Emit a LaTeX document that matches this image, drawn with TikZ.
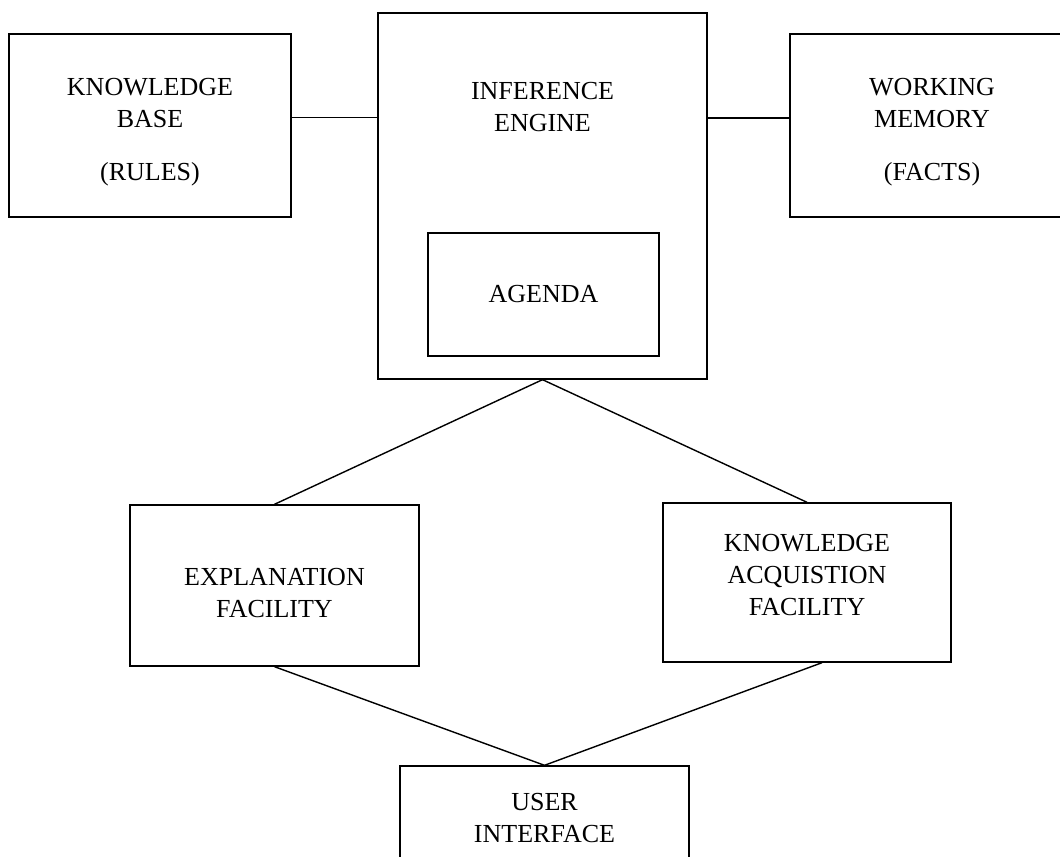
\documentclass[tikz,border=0pt]{standalone}
\usepackage{fontspec}
\setmainfont{Liberation Serif}
\begin{document}
\begin{tikzpicture}[x=0.02cm, y=-0.02cm, line width=0.8pt,
    box/.style={draw, inner sep=0pt},
    label/.style={align=center, inner sep=0pt,
        font=\fontsize{14.8}{18.2}\selectfont}]
    \useasboundingbox (0,0) rectangle (1060,857);
    % boxes
    \node[box, minimum width=5.64cm, minimum height=3.66cm] (kb) at (150,125.5) {};
    \node[box, minimum width=6.58cm, minimum height=7.32cm] (ie) at (542.5,196) {};
    \node[box, minimum width=4.62cm, minimum height=2.46cm] (agenda) at (543.5,294.5) {};
    \node[box, minimum width=5.64cm, minimum height=3.66cm] (wm) at (931,125.5) {};
    \node[box, minimum width=5.78cm, minimum height=3.22cm] (expl) at (274.5,585.5) {};
    \node[box, minimum width=5.76cm, minimum height=3.18cm] (kaf) at (807,582.5) {};
    \node[box, minimum width=5.78cm, minimum height=2.04cm] (ui) at (544.5,817) {};
    % texts
    \node[label] (kbtext) at (150,132) {KNOWLEDGE\\BASE\\[12pt](RULES)};
    \node[label] (ietext) at (542.5,107) {INFERENCE\\ENGINE};
    \node[label] (agendatext) at (agenda.center) {AGENDA};
    \node[label] (wmtext) at (932,132) {WORKING\\MEMORY\\[12pt](FACTS)};
    \node[label] (expltext) at (274.5,593) {EXPLANATION\\FACILITY};
    \node[label] (kaftext) at (807,575) {KNOWLEDGE\\ACQUISTION\\FACILITY};
    \node[label] (uitext) at (544.5,818) {USER\\INTERFACE};
    % connectors
    \coordinate (kbe) at ([yshift=0.16cm]kb.east);
    \coordinate (wmw) at ([yshift=0.15cm]wm.west);
    \coordinate (kafs) at ([xshift=0.3cm]kaf.south);
    \draw (kbe) -- (kbe -| ie.west);
    \draw (wmw -| ie.east) -- (wmw);
    \draw (ie.south) -- (expl.north);
    \draw (ie.south) -- (kaf.north);
    \draw (expl.south) -- (ui.north);
    \draw (kafs) -- (ui.north);
\end{tikzpicture}
\end{document}
